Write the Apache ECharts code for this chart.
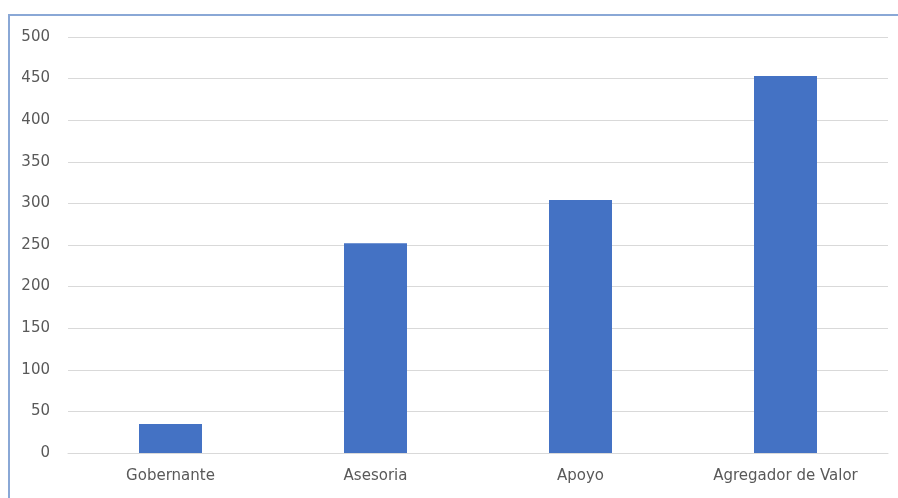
<!DOCTYPE html>
<html><head><meta charset="utf-8">
<script src="https://cdn.jsdelivr.net/npm/echarts@6/dist/echarts.min.js"></script>
<style>html,body{margin:0;padding:0;background:#fff;}#frame{position:absolute;left:8px;top:14px;width:900px;height:490px;border-left:2px solid #8aa8d6;border-top:2px solid #8aa8d6;box-sizing:border-box;}#c{position:absolute;left:0;top:0;width:898px;height:498px;}</style>
</head><body>
<div id="frame"></div>
<div id="c"></div>
<script>
const categories = ["Gobernante", "Asesoria", "Apoyo", "Agregador de Valor"];
const values = [35, 252, 304, 453];
const chart = echarts.init(document.getElementById('c'));
chart.setOption({
  animation: false,
  grid: {left: 68, right: 10, top: 37, bottom: 45, containLabel: false},
  xAxis: {
    type: 'category', data: categories,
    axisLine: {show: true, lineStyle: {color: '#d9d9d9', width: 1}},
    axisTick: {show: false},
    axisLabel: {color: '#595959', fontSize: 15, fontFamily: 'DejaVu Sans, sans-serif', margin: 16}
  },
  yAxis: {
    type: 'value', min: 0, max: 500, interval: 50,
    axisLine: {show: false}, axisTick: {show: false},
    splitLine: {lineStyle: {color: '#d9d9d9', width: 1}},
    axisLabel: {color: '#595959', fontSize: 15, fontFamily: 'DejaVu Sans, sans-serif', margin: 18}
  },
  series: [{
    type: 'bar', data: values, barWidth: 63,
    itemStyle: {color: '#4472c4'}
  }]
});
</script>
</body></html>
